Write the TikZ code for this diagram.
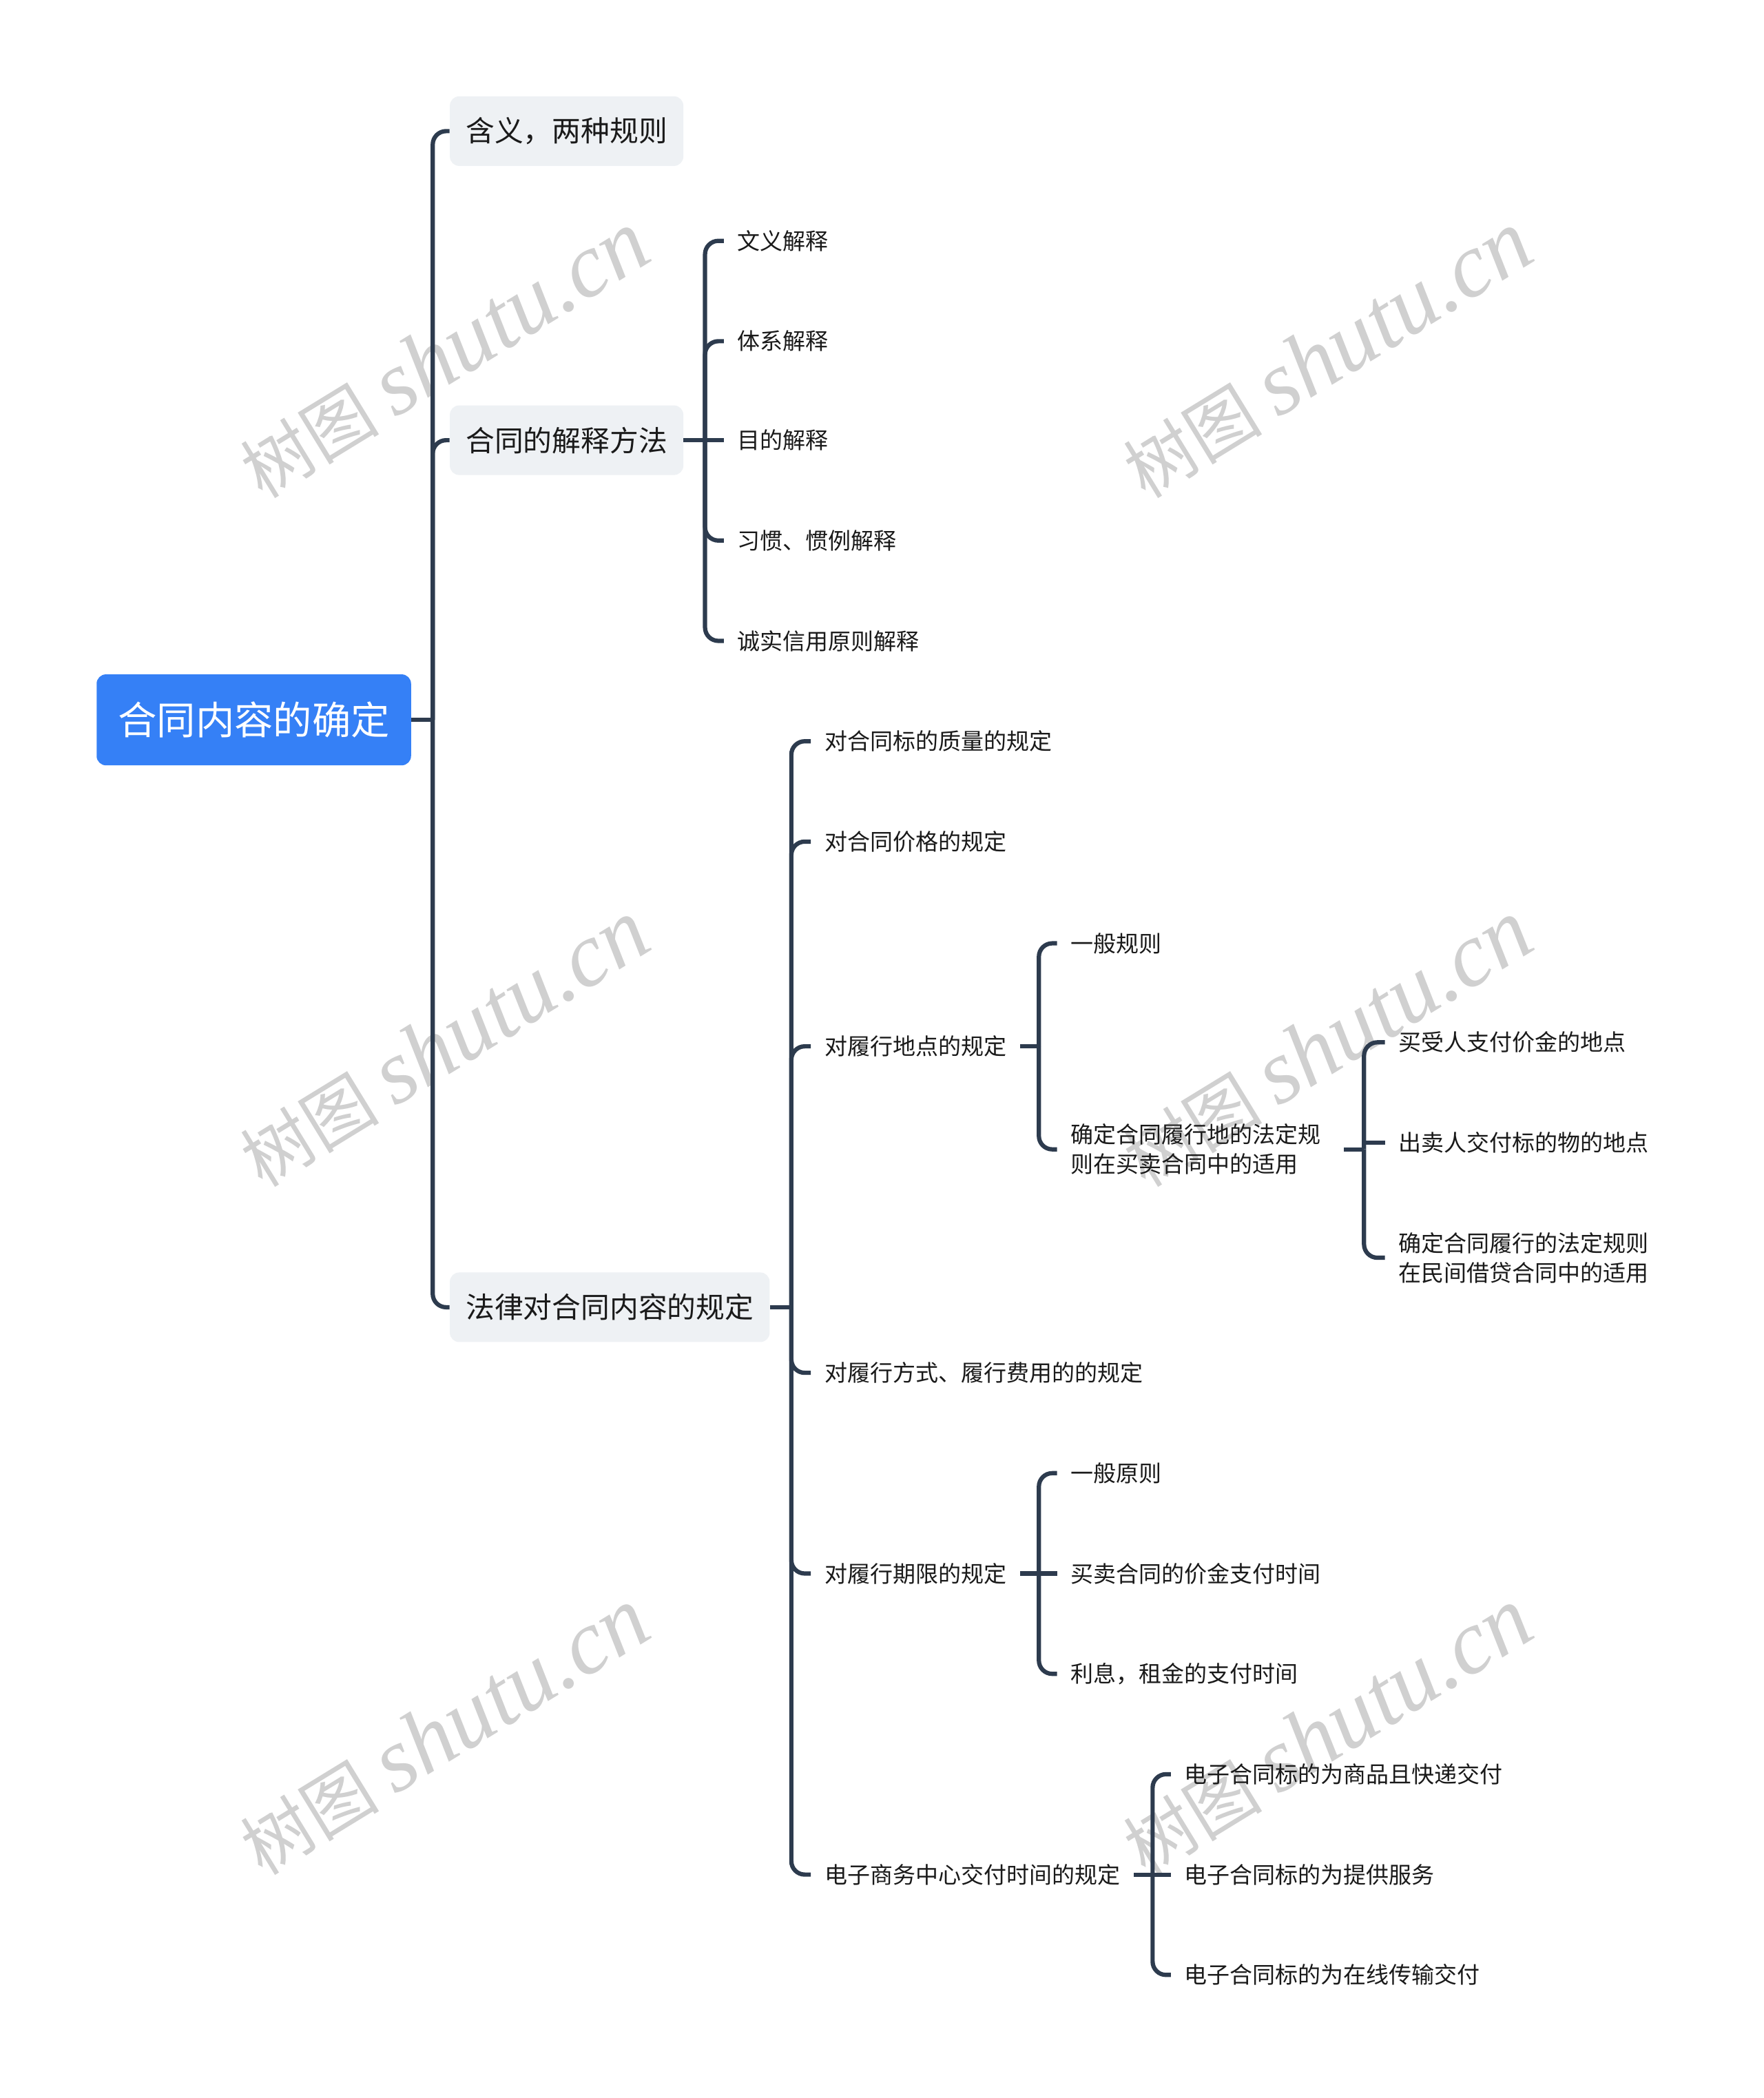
\documentclass[tikz,border=0pt]{standalone}
\usepackage{fontspec}
\setmainfont{Noto Sans CJK SC}
\newfontfamily\wmlatin{Liberation Serif}
\definecolor{lc}{HTML}{2D3B4E}
\definecolor{rootblue}{HTML}{3580F6}
\definecolor{lgray}{HTML}{EEF1F4}
\definecolor{txt}{HTML}{1A1A1A}
\definecolor{wmc}{HTML}{D0D0D0}
\newcommand{\wmtext}{{\fontsize{52}{52}\selectfont 树图}\hspace*{12pt}{\wmlatin\itshape\fontsize{68}{68}\selectfont shutu.cn}}
\tikzset{
  conn/.style={draw=lc, line width=3.2pt, rounded corners=10pt},
  rootbox/.style={fill=rootblue, rounded corners=7pt, text=white, font=\fontsize{29}{34}\selectfont, inner xsep=16pt, inner ysep=0pt, minimum height=68pt, anchor=west},
  lonebox/.style={fill=lgray, rounded corners=7pt, text=txt, font=\fontsize{21.5}{26}\selectfont, inner xsep=12pt, inner ysep=0pt, minimum height=52pt, anchor=west},
  leaf/.style={text=txt, font=\fontsize{17}{22}\selectfont, inner xsep=10pt, inner ysep=4pt, anchor=west, align=left},
  wm/.style={rotate=31.5, text=wmc, inner sep=0pt}
}
\begin{document}
\begin{tikzpicture}[x=1pt,y=-1pt]
\useasboundingbox (0,0) rectangle (1318,1568);
\fill[white] (0,0) rectangle (1318,1568);
% watermarks
\node[wm] (w1) at (332,265) {\wmtext};
\node[wm] (w2) at (992,265) {\wmtext};
\node[wm] (w3) at (332,780) {\wmtext};
\node[wm] (w4) at (992,780) {\wmtext};
\node[wm] (w5) at (332,1294) {\wmtext};
\node[wm] (w6) at (992,1294) {\wmtext};
% nodes
\node[rootbox] (root) at (72,538) {合同内容的确定};
\node[lonebox] (a) at (336,98) {含义，两种规则};
\node[lonebox] (b) at (336,329) {合同的解释方法};
\node[lonebox] (c) at (336,977) {法律对合同内容的规定};
\node[leaf] (b1) at (541,180) {文义解释};
\node[leaf] (b2) at (541,255) {体系解释};
\node[leaf] (b3) at (541,329) {目的解释};
\node[leaf] (b4) at (541,404) {习惯、惯例解释};
\node[leaf] (b5) at (541,479) {诚实信用原则解释};
\node[leaf] (c1) at (606,554) {对合同标的质量的规定};
\node[leaf] (c2) at (606,629) {对合同价格的规定};
\node[leaf] (c3) at (606,782) {对履行地点的规定};
\node[leaf] (c4) at (606,1026) {对履行方式、履行费用的的规定};
\node[leaf] (c5) at (606,1176) {对履行期限的规定};
\node[leaf] (c6) at (606,1401) {电子商务中心交付时间的规定};
\node[leaf] (d1) at (790,705) {一般规则};
\node[leaf] (d2) at (790,859) {确定合同履行地的法定规\\则在买卖合同中的适用};
\node[leaf] (e1) at (1035,779) {买受人支付价金的地点};
\node[leaf] (e2) at (1035,854) {出卖人交付标的物的地点};
\node[leaf] (e3) at (1035,940) {确定合同履行的法定规则\\在民间借贷合同中的适用};
\node[leaf] (f1) at (790,1101) {一般原则};
\node[leaf] (f2) at (790,1176) {买卖合同的价金支付时间};
\node[leaf] (f3) at (790,1251) {利息，租金的支付时间};
\node[leaf] (g1) at (875,1326) {电子合同标的为商品且快递交付};
\node[leaf] (g2) at (875,1401) {电子合同标的为提供服务};
\node[leaf] (g3) at (875,1476) {电子合同标的为在线传输交付};
% junctions
\coordinate (jr) at ([xshift=16pt]root.east);
\coordinate (jb) at ([xshift=16pt]b.east);
\coordinate (jc) at ([xshift=16pt]c.east);
\coordinate (jc3) at ([xshift=14pt]c3.east);
\coordinate (jd2) at ([xshift=22pt]d2.east);
\coordinate (jc5) at ([xshift=14pt]c5.east);
\coordinate (jc6) at ([xshift=14pt]c6.east);
% connectors
\draw[conn] (root.east) -- (jr);
\foreach \n in {a,b,c} \draw[conn] (jr) |- (\n.west);
\draw[conn] (b.east) -- (b3.west);
\foreach \n in {b1,b2,b4,b5} \draw[conn] (jb) |- (\n.west);
\draw[conn] (c.east) -- (jc);
\foreach \n in {c1,c2,c3,c4,c5,c6} \draw[conn] (jc) |- (\n.west);
\draw[conn] (c3.east) -- (jc3);
\foreach \n in {d1,d2} \draw[conn] (jc3) |- (\n.west);
\draw[conn] ([xshift=7pt]d2.east) -- (jd2);
\foreach \n in {e1,e3} \draw[conn] (jd2) |- (\n.west);
\draw[conn] (jd2 |- e2.west) -- (e2.west);
\draw[conn] (c5.east) -- (f2.west);
\foreach \n in {f1,f3} \draw[conn] (jc5) |- (\n.west);
\draw[conn] (c6.east) -- (g2.west);
\foreach \n in {g1,g3} \draw[conn] (jc6) |- (\n.west);
\end{tikzpicture}
\end{document}
